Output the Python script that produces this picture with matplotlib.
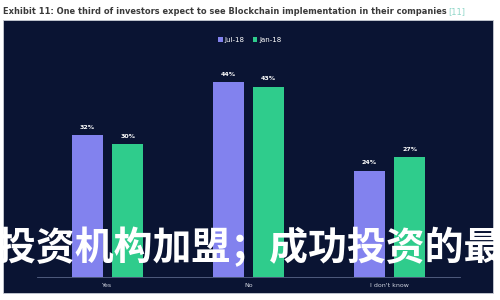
import numpy as np
import matplotlib.pyplot as plt
from matplotlib.patches import Rectangle

categories = ['Yes', 'No', "I don't know"]
jul_18 = [32, 44, 24]
jan_18 = [30, 43, 27]
series_names = ['Jul-18', 'Jan-18']

navy = '#0a1433'
purple = '#8282ee'
green = '#2fcc8c'

fig = plt.figure(figsize=(5, 3), dpi=100)
fig.patch.set_facecolor('white')

# dark panel behind the chart
fig.patches.append(Rectangle((0.006, 0.023), 0.98, 0.91, transform=fig.transFigure,
                             facecolor=navy, edgecolor='#c8ccd6', linewidth=0.6, zorder=-1))

fig.text(0.006, 0.962, 'Exhibit 11: One third of investors expect to see Blockchain implementation in their companies',
         fontsize=5.95, fontweight='bold', color='#3a3a3a', va='center', ha='left')
fig.text(0.897, 0.962, '[11]', fontsize=5.95, color='#8fd6c8', va='center', ha='left')

ax = fig.add_axes([0.074, 0.0767, 0.846, 0.738])
ax.set_facecolor('none')
x = np.arange(len(categories))
w = 0.22
b1 = ax.bar(x - 0.143, jul_18, w, color=purple, label=series_names[0])
b2 = ax.bar(x + 0.143, jan_18, w, color=green, label=series_names[1])
for bars, vals in ((b1, jul_18), (b2, jan_18)):
    for r, v in zip(bars, vals):
        ax.text(r.get_x() + r.get_width() / 2, v + 1.2, f'{v}%', ha='center', va='bottom',
                fontsize=4.5, color='white', fontweight='bold')

ax.set_xlim(-0.5, 2.5)
ax.set_ylim(0, 50)
ax.set_yticks([])
ax.set_xticks(x)
ax.set_xticklabels(categories, fontsize=4.5, color='#d0d4e0')
ax.tick_params(axis='x', length=0, pad=4)
for s in ['top', 'right', 'left']:
    ax.spines[s].set_visible(False)
ax.spines['bottom'].set_color('#5a6688')
ax.spines['bottom'].set_linewidth(0.6)

leg = fig.legend(handles=[b1, b2], labels=series_names, loc='center', bbox_to_anchor=(0.5, 0.867),
                 ncol=2, frameon=False, fontsize=5, labelcolor='white', handlelength=0.6, handleheight=0.6,
                 columnspacing=1.2, handletextpad=0.3)

# overlay text
fig.text(-0.005, 0.173, '投资机构加盟；成功投资的最', fontsize=28, color='white', fontweight='heavy',
         family=['Noto Sans CJK SC', 'DejaVu Sans'], va='center', ha='left')

fig.savefig('out.png', dpi=100, facecolor='white')
